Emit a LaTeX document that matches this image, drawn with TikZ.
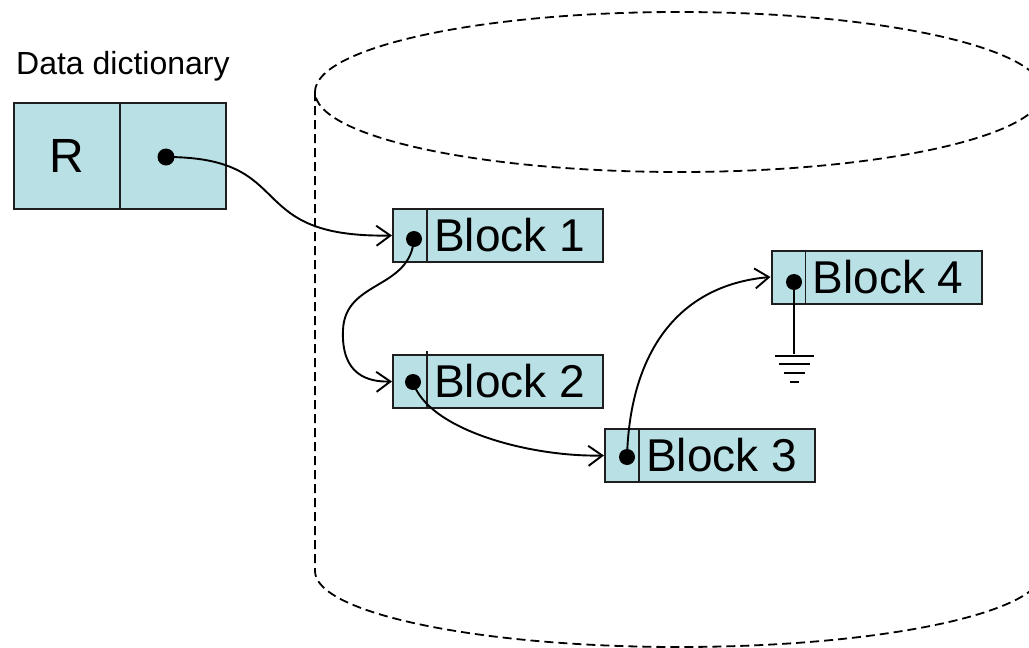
\documentclass[tikz,border=0pt]{standalone}
\usepackage{fontspec}
\setmainfont{Liberation Sans}
\usetikzlibrary{arrows.meta}
\definecolor{blockfill}{RGB}{185,224,228}
\definecolor{edge}{RGB}{30,30,30}
\begin{document}
\begin{tikzpicture}[x=1pt,y=-1pt,
  cell/.style={draw=edge,line width=2pt,fill=blockfill,inner sep=0pt},
  blockbox/.style={cell,minimum width=210pt,minimum height=53pt},
  ptr/.style={circle,fill=black,inner sep=0pt,minimum size=16pt},
  link/.style={line width=1.9pt,-{Straight Barb[length=14pt,width=20pt,line width=1.9pt]}},
  outline/.style={line width=1.8pt,dash pattern=on 9pt off 5pt},
  blocklabel/.style={font=\fontsize{46}{46}\selectfont,anchor=west,inner sep=0pt},
]
\useasboundingbox (0,0) rectangle (1029,648);
\clip (0,0) rectangle (1029,648);

% storage cylinder
\draw[outline] (679,92) ellipse [x radius=364, y radius=80];
\draw[outline] (315,92) -- (315,571) arc [start angle=180, end angle=0, x radius=364, y radius=76];

% data dictionary entry
\node[anchor=west,font=\fontsize{32}{32}\selectfont,inner sep=0pt] (title) at (16,66) {Data dictionary};
\node[cell,minimum width=106pt,minimum height=106pt] (rname) at (67,156) {};
\node[cell,minimum width=106pt,minimum height=106pt] (rptr) at (173,156) {};
\node[font=\fontsize{48}{48}\selectfont,inner sep=0pt] at (rname) {R};
\node[ptr,minimum size=17pt] (d0) at (166,157) {};

% blocks
\foreach \n/\cx/\cy in {1/498/235.5, 2/498/381.5, 3/710/455.5, 4/876.5/277} {
  \node[blockbox] (b\n) at (\cx,\cy) {};
  \draw[edge,line width=1.6pt] ([xshift=35pt]b\n.north west) -- ([xshift=35pt]b\n.south west);
  \node[blocklabel] (t\n) at ([xshift=42pt]b\n.west) {Block \n};
}
\draw[edge,line width=1.6pt] ([xshift=35pt,yshift=3pt]b2.north west) -- ([xshift=35pt]b2.north west);

\node[ptr] (d1) at (414,239) {};
\node[ptr] (d2) at (413,382) {};
\node[ptr] (d3) at (627,457) {};
\node[ptr] (d4) at (794,282) {};

% pointer chain
\draw[link] (d0.center) .. controls (300,157) and (240,238) .. (b1.west);
\draw[link] (d1.center) .. controls (410,290) and (345,280) .. (343,330)
                        .. controls (341,375) and (368,382) .. (b2.west);
\draw[link] (d2.center) .. controls (428,430) and (530,457) .. (b3.west);
\draw[link] (d3.center) .. controls (630,350) and (680,285) .. (b4.west);

% null pointer
\coordinate (gnd) at (794,354);
\draw[line width=2.4pt] (d4.center) -- (gnd);
\draw[line width=1.8pt] (775,356) -- (814,356)
  (779,364) -- (810,364) (784,373) -- (805,373) (790,382) -- (799,382);
\end{tikzpicture}
\end{document}
